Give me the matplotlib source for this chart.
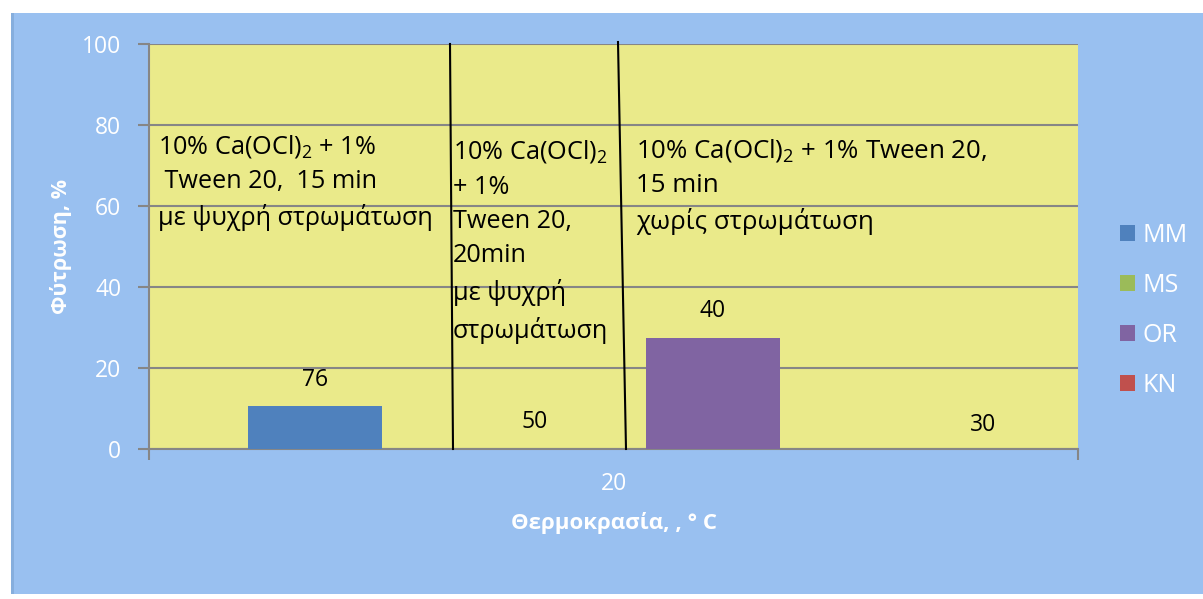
import matplotlib
matplotlib.use("Agg")
import matplotlib.pyplot as plt
from matplotlib.patches import Rectangle
from matplotlib.lines import Line2D

plt.rcParams['font.family'] = ['Open Sans', 'DejaVu Sans']
plt.rcParams['mathtext.fontset'] = 'custom'
plt.rcParams['mathtext.rm'] = 'Open Sans'
plt.rcParams['mathtext.it'] = 'Open Sans:italic'

# ---- data ----
series = ["MM", "MS", "OR", "KN"]
values = [10.5, 0, 27.5, 0]
colors = ["#4F81BD", "#9BBB59", "#8064A2", "#C0504D"]
data_labels = ["76", "50", "40", "30"]
category = ["20"]
y_ticks = [0, 20, 40, 60, 80, 100]
notes = [
    "10% Ca(OCl)$_2$ + 1%\n Tween 20,  15 min\nμε ψυχρή στρωμάτωση",
    "10% Ca(OCl)$_2$\n+ 1%\nTween 20,\n20min\nμε ψυχρή\nστρωμάτωση",
    "10% Ca(OCl)$_2$ + 1% Tween 20,\n15 min\nχωρίς στρωμάτωση",
]
ylabel = "Φύτρωση, %"
xlabel = "Θερμοκρασία, , ° C"

W, H = 1203, 599
fig = plt.figure(figsize=(W / 100, H / 100), dpi=100)
fig.patch.set_facecolor("white")
panel_color = "#99C0F0"
fig.patches.append(Rectangle((11 / W, 1 - 594 / H), 1.0, (594 - 13) / H,
                             transform=fig.transFigure, facecolor=panel_color,
                             edgecolor="none", zorder=-10))
fig.patches.append(Rectangle((11 / W, 1 - 594 / H), 3 / W, (594 - 13) / H,
                             transform=fig.transFigure, facecolor="#86AEDD",
                             edgecolor="none", zorder=-9))

ax = fig.add_axes([149 / W, 1 - 449 / H, (1078 - 149) / W, (449 - 44) / H])
ax.set_zorder(1)
ax.set_facecolor("#EAEA8A")
grid_c = "#868686"

xs = list(range(len(series)))
for x, v, c, s in zip(xs, values, colors, series):
    ax.bar(x, v, width=0.67, color=c, label=s, zorder=3)

ax.set_xlim(-0.834, 3.835)
ax.set_ylim(0, 100)
ax.set_yticks(y_ticks)
ax.yaxis.grid(True, color=grid_c, linewidth=1.5, zorder=1)
ax.set_axisbelow(True)
for sp in ["top", "right"]:
    ax.spines[sp].set_visible(False)
ax.spines["left"].set_color(grid_c)
ax.spines["left"].set_linewidth(1.5)
ax.spines["bottom"].set_color(grid_c)
ax.spines["bottom"].set_linewidth(1.5)
ax.tick_params(axis="y", colors=grid_c, labelcolor="white", labelsize=16.5,
               length=8, width=1.5, pad=12)
ax.set_xticks([-0.834, 3.835])
ax.set_xticklabels(["", ""])
ax.tick_params(axis="x", colors=grid_c, length=8, width=1.5)
fig.text(614 / W, 1 - 484 / H, category[0], ha="center", va="center",
         color="white", fontsize=16.5)

fig.text(61 / W, 1 - 247 / H, ylabel, rotation=90, ha="center", va="center",
         color="white", fontsize=15.5, fontweight="bold")
fig.text(614 / W, 1 - 523 / H, xlabel, ha="center", va="center",
         color="white", fontsize=16, fontweight="bold")

# data labels
label_pos = [(0.0, 17.0), (1.106, 6.6), (2.0, 34.0), (3.357, 6.0)]
for (lx, ly), t in zip(label_pos, data_labels):
    ax.text(lx, ly, t, ha="center", va="center", fontsize=16.5, color="black", zorder=5)

# annotation notes
note_pos = [(158, 133), (453, 138), (636, 137)]
note_spacing = [1.48, 1.5, 1.48]
note_size = [18.2, 18.2, 18.6]
for (px, py), t, ls, fs in zip(note_pos, notes, note_spacing, note_size):
    fig.text(px / W, 1 - py / H, t, ha="left", va="top", fontsize=fs,
             color="black", linespacing=ls, zorder=6)

# slanted separator lines
for (xt, yt), (xb, yb) in [((450, 44), (453, 449)), ((618, 42), (626, 449))]:
    fig.lines.append(Line2D([xt / W, xb / W], [1 - yt / H, 1 - yb / H],
                            transform=fig.transFigure, color="black", linewidth=1.5, zorder=7))

leg = ax.legend(loc="center left", bbox_to_anchor=(1120 / W, 1 - 310 / H),
                bbox_transform=fig.transFigure, frameon=False, fontsize=18,
                handlelength=0.6, handleheight=0.6, handletextpad=0.3,
                labelspacing=1.0, borderaxespad=0, borderpad=0)
for t in leg.get_texts():
    t.set_color("white")

fig.savefig("out.png", dpi=100, facecolor=fig.get_facecolor())
